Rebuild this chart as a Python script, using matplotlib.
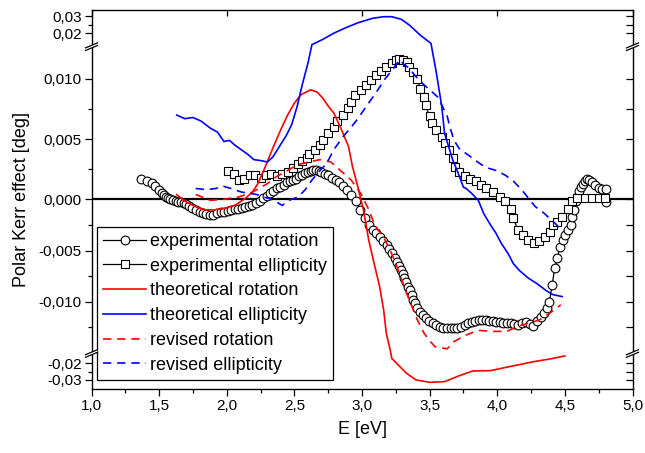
import numpy as np
import matplotlib
matplotlib.use("Agg")
import matplotlib.pyplot as plt
from matplotlib.lines import Line2D
from matplotlib.patches import Polygon
from matplotlib.ticker import FixedLocator, FixedFormatter

plt.rcParams['font.family'] = ['Liberation Sans', 'DejaVu Sans']

# ---------------- data ----------------
exp_rot_E = [1.367,1.407,1.446,1.472,1.498,1.52,1.537,1.55,1.563,1.58,1.603,1.622,1.642,1.66,1.681,1.70,1.72,1.745,
             1.773,1.80,1.825,1.85,1.877,1.90,1.929,1.955,1.982,2.008,2.034,2.06,2.086,2.112,2.138,2.164,2.19,2.216,
             2.243,2.269,2.295,2.32,2.345,2.37,2.395,2.42,2.445,2.47,2.491,2.51,2.535,2.556,2.58,2.60,2.62,2.64,2.66,
             2.68,2.70,2.725,2.752,2.78,2.805,2.831,2.86,2.89,2.922,2.955,2.987,3.02,3.053,3.079,3.105,3.131,3.157,
             3.183,3.203,3.223,3.243,3.262,3.275,3.288,3.30,3.314,3.327,3.34,3.354,3.367,3.38,3.393,3.41,3.432,3.45,
             3.471,3.497,3.524,3.55,3.575,3.60,3.628,3.655,3.68,3.705,3.732,3.76,3.785,3.81,3.837,3.863,3.889,3.915,
             3.941,3.968,3.994,4.02,4.046,4.072,4.098,4.125,4.151,4.185,4.216,4.245,4.268,4.295,4.32,4.347,4.366,
             4.386,4.405,4.425,4.445,4.464,4.483,4.503,4.522,4.542,4.555,4.568,4.581,4.594,4.607,4.62,4.634,4.647,
             4.66,4.68,4.70,4.725,4.751,4.777,4.803,4.803]
exp_rot = [0.00166,0.00152,0.00133,0.00108,0.00077,0.00055,0.00036,0.0002,0.0001,0.0,-0.00007,-0.00015,-0.00023,-0.0003,
           -0.0004,-0.0005,-0.00065,-0.00085,-0.00104,-0.00122,-0.00137,-0.00147,-0.00153,-0.00149,-0.00137,-0.00128,
           -0.00121,-0.00112,-0.00104,-0.00098,-0.00093,-0.00088,-0.0008,-0.0007,-0.00056,-0.0004,-0.0002,0.0001,0.0003,
           0.0005,0.0007,0.0009,0.00105,0.0012,0.0014,0.0015,0.0016,0.0017,0.0019,0.002,0.0022,0.0023,0.00235,0.0024,
           0.0024,0.00235,0.0023,0.0021,0.002,0.0018,0.0016,0.00146,0.0011,0.0008,0.00036,-0.0002,-0.001,-0.0018,-0.0025,
           -0.003,-0.0033,-0.00365,-0.0041,-0.00446,-0.0049,-0.00528,-0.0057,-0.0061,-0.0065,-0.0069,-0.0073,-0.0077,
           -0.0081,-0.00853,-0.0089,-0.00935,-0.0098,-0.01016,-0.0106,-0.01097,-0.0113,-0.01163,-0.0119,-0.01211,-0.0123,
           -0.01244,-0.01253,-0.0126,-0.0126,-0.0126,-0.01253,-0.01244,-0.0123,-0.01211,-0.01195,-0.01185,-0.0118,
           -0.01179,-0.0118,-0.01185,-0.0119,-0.01195,-0.012,-0.01205,-0.01208,-0.01211,-0.0122,-0.01228,-0.0121,
           -0.01195,-0.0122,-0.01237,-0.0119,-0.01146,-0.01113,-0.0106,-0.01,-0.0084,-0.00674,-0.0057,-0.00463,-0.004,
           -0.00349,-0.003,-0.0025,-0.00176,-0.001,-0.0002,0.0003,0.0007,0.001,0.0013,0.0015,0.00169,0.0016,0.00146,
           0.0012,0.0009,0.00085,0.00083,-0.00023]

exp_ell_E = [2.008,2.05,2.09,2.13,2.17,2.21,2.25,2.29,2.33,2.37,2.41,2.45,2.49,2.53,2.56,2.59,2.61,2.65,2.69,2.71,2.75,
             2.79,2.815,2.857,2.9,2.92,2.95,2.99,3.03,3.07,3.1,3.14,3.18,3.22,3.25,3.27,3.30,3.33,3.35,3.38,3.41,3.43,
             3.46,3.47,3.5,3.52,3.55,3.59,3.61,3.64,3.67,3.69,3.72,3.76,3.8,3.84,3.88,3.92,3.97,4.02,4.06,4.10,4.12,
             4.15,4.19,4.23,4.27,4.31,4.35,4.39,4.41,4.44,4.48,4.52,4.55,4.59,4.65,4.7,4.75,4.8]
exp_ell = [0.00235,0.0021,0.0016,0.0017,0.002,0.002,0.0018,0.002,0.0021,0.0019,0.0021,0.0023,0.0026,0.0029,0.0032,
           0.0034,0.0038,0.0041,0.0045,0.0049,0.0055,0.006,0.0065,0.007,0.0076,0.0081,0.0087,0.0091,0.0095,0.0099,
           0.0103,0.0107,0.011,0.0113,0.0116,0.0117,0.0116,0.0114,0.011,0.0106,0.01,0.0092,0.0085,0.0078,0.0069,
           0.0063,0.0058,0.0052,0.0047,0.0041,0.0034,0.0027,0.0023,0.0019,0.0017,0.0015,0.0012,0.0009,0.0006,0.0002,
           -0.0002,-0.0009,-0.0018,-0.003,-0.0035,-0.004,-0.0043,-0.0041,-0.0037,-0.0032,-0.0025,-0.0022,-0.0017,
           -0.0009,-0.0002,0.0001,0.0001,0.0001,0.0001,0.0001]

th_rot_E = [1.63,1.68,1.75,1.82,1.9,1.98,2.06,2.14,2.19,2.23,2.27,2.31,2.35,2.4,2.45,2.5,2.55,2.62,2.67,2.71,2.76,
            2.79,2.84,2.9,2.93,2.97,3.01,3.05,3.09,3.13,3.16,3.18,3.21,3.22,3.28,3.33,3.40,3.50,3.61,3.72,3.82,3.95,
            4.09,4.27,4.39,4.5]
th_rot = [0.0004,-0.0001,-0.0006,-0.001,-0.00105,-0.0009,-0.0006,0.0001,0.0006,0.0013,0.0023,0.0034,0.0045,0.0058,
          0.007,0.008,0.0087,0.0091,0.0089,0.0084,0.0076,0.0072,0.006,0.0044,0.0027,0.001,-0.001,-0.004,-0.0063,
          -0.0085,-0.0108,-0.0131,-0.0148,-0.017,-0.022,-0.026,-0.030,-0.0314,-0.031,-0.0274,-0.0246,-0.0244,-0.022,
          -0.019,-0.0174,-0.0156]

th_ell_E = [1.63,1.69,1.75,1.81,1.88,1.93,1.98,2.02,2.06,2.11,2.16,2.2,2.26,2.3,2.34,2.39,2.44,2.48,2.52,2.56,2.6,
            2.63,2.71,2.79,2.87,2.97,3.08,3.16,3.22,3.29,3.35,3.43,3.51,3.55,3.59,3.61,3.64,3.67,3.71,3.75,3.77,3.81,
            3.86,3.9,3.95,3.99,4.03,4.08,4.12,4.16,4.23,4.29,4.36,4.41,4.48]
th_ell = [0.007,0.0067,0.0068,0.0065,0.0059,0.0056,0.0048,0.0049,0.0045,0.0041,0.0037,0.0033,0.0032,0.0031,0.0035,
          0.0044,0.0053,0.0062,0.0077,0.0096,0.0113,0.0135,0.0165,0.02,0.0229,0.0261,0.0287,0.0296,0.0296,0.0281,
          0.0248,0.019,0.0142,0.0105,0.0077,0.0055,0.0044,0.0033,0.0022,0.001,0.0009,0.0005,-0.0001,-0.0014,-0.0025,
          -0.0033,-0.0043,-0.0053,-0.0063,-0.0069,-0.0077,-0.0082,-0.0089,-0.0093,-0.0095]

rev_rot_E = [1.77,1.88,1.98,2.09,2.19,2.3,2.37,2.45,2.53,2.61,2.69,2.77,2.84,2.92,2.99,3.05,3.1,3.16,3.21,3.25,3.29,
             3.33,3.37,3.41,3.46,3.5,3.54,3.63,3.68,3.76,3.86,3.97,4.07,4.15,4.23,4.31,4.39,4.47]
rev_rot = [0.0004,-0.0001,0.0,0.0002,0.0006,0.0013,0.0019,0.0024,0.0029,0.0031,0.0033,0.0031,0.0024,0.0016,0.0005,
           -0.001,-0.0027,-0.0037,-0.005,-0.0063,-0.0077,-0.0092,-0.0105,-0.0118,-0.0131,-0.0138,-0.0144,-0.0146,
           -0.0139,-0.0133,-0.0128,-0.0129,-0.0129,-0.0124,-0.0121,-0.0118,-0.0111,-0.0103]

rev_ell_E = [1.77,1.85,1.92,1.97,2.03,2.11,2.22,2.3,2.35,2.41,2.46,2.53,2.58,2.63,2.69,2.74,2.79,2.86,2.92,2.97,3.03,
             3.1,3.17,3.22,3.26,3.28,3.31,3.35,3.39,3.45,3.5,3.56,3.6,3.63,3.65,3.68,3.72,3.77,3.82,3.88,3.93,3.99,
             4.06,4.12,4.18,4.23,4.28,4.35,4.39,4.44,4.47]
rev_ell = [0.0009,0.0008,0.0009,0.0011,0.0009,0.0006,0.0004,0.0001,-0.0001,-0.0006,-0.0001,0.0002,0.0008,0.0016,
           0.0024,0.003,0.0041,0.0052,0.006,0.0067,0.0077,0.0088,0.01,0.0107,0.0113,0.0116,0.0112,0.0109,0.0103,
           0.0096,0.0091,0.0085,0.0076,0.0069,0.006,0.0049,0.0042,0.0038,0.0034,0.0029,0.0026,0.0024,0.002,0.0015,
           0.0008,0.0001,-0.0007,-0.0014,-0.0019,-0.0025,-0.0032]

labels = ["experimental rotation", "experimental ellipticity", "theoretical rotation",
          "theoretical ellipticity", "revised rotation", "revised ellipticity"]

x_major = [1.0, 1.5, 2.0, 2.5, 3.0, 3.5, 4.0, 4.5, 5.0]
x_labels = ["1,0", "1,5", "2,0", "2,5", "3,0", "3,5", "4,0", "4,5", "5,0"]
y_major = [-0.03, -0.02, -0.010, -0.005, 0.0, 0.005, 0.010, 0.02, 0.03]
y_labels = ["-0,03", "-0,02", "-0,010", "-0,005", "0,000", "0,005", "0,010", "0,02", "0,03"]
y_minor = [-0.025, -0.0125, -0.0075, -0.0025, 0.0025, 0.0075, 0.025]

# ---------------- broken (piecewise linear) y scale ----------------
W, H = 645, 453
KV = np.array([-0.0354, -0.0152, -0.0149, 0.0, 0.0124, 0.0128, 0.0335])
KP = np.array([389.0, 355.3, 351.9, 199.3, 50.1, 45.8, 9.95])
KU = H - KP


def _pl(x, xs, ys):
    x = np.asarray(x, dtype=float)
    y = np.interp(x, xs, ys)
    s0 = (ys[1] - ys[0]) / (xs[1] - xs[0])
    s1 = (ys[-1] - ys[-2]) / (xs[-1] - xs[-2])
    y = np.where(x < xs[0], ys[0] + (x - xs[0]) * s0, y)
    y = np.where(x > xs[-1], ys[-1] + (x - xs[-1]) * s1, y)
    return y


def fwd(v):
    return _pl(v, KV, KU)


def inv(u):
    return _pl(u, KU, KV)


fig = plt.figure(figsize=(W / 100, H / 100), dpi=100)
L, R, T, B = 91.5, 632.5, 9.95, 389.0
ax = fig.add_axes([L / W, 1 - B / H, (R - L) / W, (B - T) / H])
ax.set_yscale('function', functions=(fwd, inv))
ax.set_xlim(1.0, 5.0)
ax.set_ylim(KV[0], KV[-1])

ax.axhline(0.0, color='black', lw=1.6, zorder=1)

h1, = ax.plot(exp_rot_E, exp_rot, '-o', color='black', lw=0.9, ms=6.3, mfc='white', mec='black', mew=0.8, zorder=2)
h2, = ax.plot(exp_ell_E, exp_ell, '-s', color='black', lw=0.9, ms=5.6, mfc='white', mec='black', mew=0.8, zorder=2)
h3, = ax.plot(th_rot_E, th_rot, '-', color='#ff0000', lw=1.2, zorder=3)
h4, = ax.plot(th_ell_E, th_ell, '-', color='#0000ff', lw=1.2, zorder=3)
h5, = ax.plot(rev_rot_E, rev_rot, color='#ff0000', lw=1.2, ls=(0, (5, 3.5)), zorder=3)
h6, = ax.plot(rev_ell_E, rev_ell, color='#0000ff', lw=1.2, ls=(0, (5, 3.5)), zorder=3)

ax.xaxis.set_major_locator(FixedLocator(x_major))
ax.xaxis.set_major_formatter(FixedFormatter(x_labels))
ax.xaxis.set_minor_locator(FixedLocator([1.25, 1.75, 2.25, 2.75, 3.25, 3.75, 4.25, 4.75]))
ax.yaxis.set_major_locator(FixedLocator(y_major))
ax.yaxis.set_major_formatter(FixedFormatter(y_labels))
ax.yaxis.set_minor_locator(FixedLocator(y_minor))
ax.tick_params(which='both', direction='out', top=False, right=False, labelsize=11, width=0.9, pad=2)
ax.tick_params(which='major', length=5)
ax.tick_params(which='minor', length=3)
for s in ax.spines.values():
    s.set_linewidth(1.0)

axr = ax.twinx()
axr.set_yscale('function', functions=(fwd, inv))
axr.set_ylim(KV[0], KV[-1])
axr.yaxis.set_major_locator(FixedLocator(y_major + y_minor))
axr.tick_params(axis='y', direction='in', length=5, width=0.9, labelright=False)
axt = ax.twiny()
axt.set_xlim(1.0, 5.0)
axt.xaxis.set_major_locator(FixedLocator([1.0, 2.0, 3.0, 4.0, 5.0]))
axt.tick_params(axis='x', direction='in', length=4, width=0.9, labeltop=False)
for a in (axr, axt):
    for s in a.spines.values():
        s.set_visible(False)

ax.set_xlabel("E [eV]", fontsize=13, labelpad=6)
ax.set_ylabel("Polar Kerr effect [deg]", fontsize=13, labelpad=6)

leg = ax.legend([h1, h2, h3, h4, h5, h6], labels, loc='lower left',
                bbox_to_anchor=(0.0102, 0.0237), borderaxespad=0, fontsize=13,
                frameon=True, fancybox=False, framealpha=1, edgecolor='black',
                handlelength=2.35, handletextpad=0.25, labelspacing=0.43, borderpad=0.35,
                numpoints=1)
leg.get_frame().set_linewidth(0.9)
leg.set_zorder(10)


def brk(xp, yp):
    d = 6.0
    s = 2.5
    g = 2.6
    pts = [(xp - d, yp + s), (xp + d, yp - s), (xp + d, yp - s - g), (xp - d, yp + s - g)]
    fig.add_artist(Polygon([(px / W, 1 - py / H) for px, py in pts], closed=True, fc='white', ec='none',
                           transform=fig.transFigure, zorder=20))
    for off in (0, g):
        fig.add_artist(Line2D([(xp - d) / W, (xp + d) / W],
                              [1 - (yp + s - off) / H, 1 - (yp - s - off) / H],
                              color='black', lw=0.9, transform=fig.transFigure, zorder=21))


for xp in (L, R):
    brk(xp, 48.0)
    brk(xp, 354.8)

fig.savefig("out.png", dpi=100)
